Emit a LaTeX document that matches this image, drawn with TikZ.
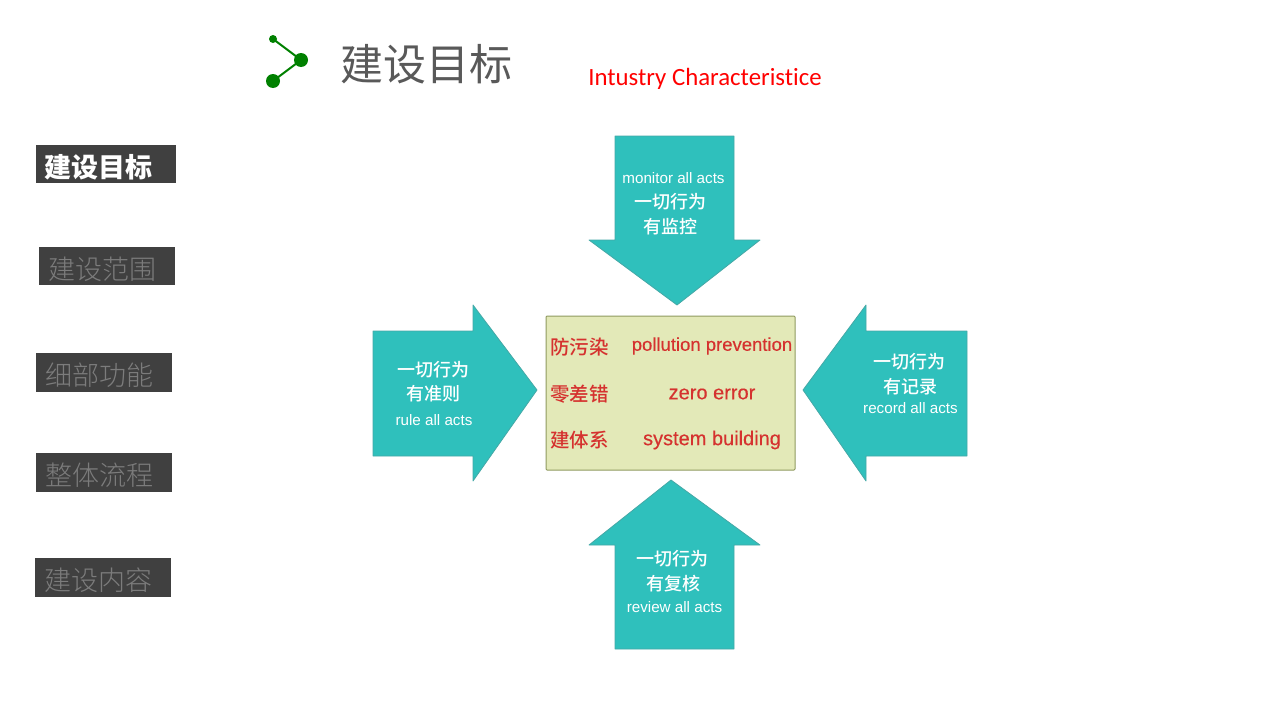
\documentclass[tikz,border=0pt]{standalone}
\usepackage{fontspec}
\setmainfont{Liberation Sans}
\newfontfamily\cjk{Noto Sans CJK SC}
\newfontfamily\cjklight{Noto Sans CJK SC Light}
\newfontfamily\cjkmedium{Noto Sans CJK SC Medium}
\newfontfamily\latinui[Ligatures=NoCommon]{Carlito}
\newfontfamily\enheavy[FakeBold=0.3]{Liberation Sans}
\definecolor{tealfill}{HTML}{2FC0BC}
\definecolor{tealline}{HTML}{45A8A6}
\definecolor{boxfill}{HTML}{E3E9B8}
\definecolor{boxline}{HTML}{8F9A60}
\definecolor{labelred}{HTML}{D5322F}
\definecolor{sidegray}{HTML}{404040}
\definecolor{sidelabel}{HTML}{7C7C7C}
\definecolor{icongreen}{HTML}{008000}
\tikzset{
  bigarrow/.style={fill=tealfill, draw=tealline, line width=0.8pt, line join=round},
  arrowen/.style={text=white, font=\fontsize{15.2}{15.2}\selectfont},
  arrowzh/.style={text=white, font=\cjkmedium\fontsize{18}{18}\selectfont},
  redzh/.style={text=labelred, font=\cjkmedium\fontsize{19.5}{19.5}\selectfont},
  reden/.style={text=labelred, font=\enheavy\fontsize{18.5}{18.5}\selectfont},
  redenbig/.style={text=labelred, font=\enheavy\fontsize{20}{20}\selectfont},
  sidebox/.style={fill=sidegray},
  sidetext/.style={text=sidelabel, font=\cjklight\fontsize{27}{27}\selectfont}
}
\begin{document}
\begin{tikzpicture}[x=1pt, y=-1pt]
  \useasboundingbox (0,0) rectangle (1280,720);

  % Title icon
  \coordinate (dotA) at (273,39);
  \coordinate (dotB) at (301,60);
  \coordinate (dotC) at (273,81);
  \draw[icongreen, line width=2pt] (dotA) -- (dotB) -- (dotC);
  \fill[icongreen] (dotA) circle (4);
  \fill[icongreen] (dotB) circle (7);
  \fill[icongreen] (dotC) circle (7);

  % Title
  \node[text=black!65, font=\cjk\fontsize{43}{43}\selectfont] (title) at (426,64) {建设目标};
  \node[text=red, font=\latinui\fontsize{24.8}{24.8}\selectfont] (subtitle) at (705,78.5) {Intustry Characteristice};

  % Side menu
  \fill[sidebox] (36,145) rectangle (176,183);
  \node[text=white, font=\cjk\bfseries\fontsize{27}{27}\selectfont] (menuA) at (98.5,167) {建设目标};
  \fill[sidebox] (39,247) rectangle (175,285);
  \node[sidetext] (menuB) at (102.5,269) {建设范围};
  \fill[sidebox] (36,353) rectangle (172,392);
  \node[sidetext] (menuC) at (99.5,375) {细部功能};
  \fill[sidebox] (36,453) rectangle (172,492);
  \node[sidetext] (menuD) at (99.5,475) {整体流程};
  \fill[sidebox] (35,558) rectangle (171,597);
  \node[sidetext] (menuE) at (98,580) {建设内容};

  % Four arrows
  \draw[bigarrow] (615,136) -- (734,136) -- (734,240) -- (760,240) -- (677,305) -- (589,240) -- (615,240) -- cycle;
  \draw[bigarrow] (373,331) -- (473,331) -- (473,305) -- (537,390) -- (473,481) -- (473,456) -- (373,456) -- cycle;
  \draw[bigarrow] (967,331) -- (866,331) -- (866,305) -- (803,390) -- (866,481) -- (866,456) -- (967,456) -- cycle;
  \draw[bigarrow] (615,649) -- (734,649) -- (734,545) -- (760,545) -- (671,480) -- (589,545) -- (615,545) -- cycle;

  % Top arrow text
  \node[arrowen] (topen) at (673.5,178) {monitor all acts};
  \node[arrowzh] (topa) at (670,202) {一切行为};
  \node[arrowzh] (topb) at (670,226.5) {有监控};

  % Left arrow text
  \node[arrowzh] (lefta) at (433,369.5) {一切行为};
  \node[arrowzh] (leftb) at (433,393.5) {有准则};
  \node[arrowen] (leften) at (434,420) {rule all acts};

  % Right arrow text
  \node[arrowzh] (righta) at (909,361.5) {一切行为};
  \node[arrowzh] (rightb) at (910,386.5) {有记录};
  \node[arrowen] (righten) at (910.5,408) {record all acts};

  % Bottom arrow text
  \node[arrowzh] (bota) at (672.5,558.5) {一切行为};
  \node[arrowzh] (botb) at (673,583.5) {有复核};
  \node[arrowen] (boten) at (674.5,607) {review all acts};

  % Centre box
  \fill[boxfill, draw=boxline, line width=1pt, rounded corners=1pt] (546,316) rectangle (795,470);
  \node[redzh] (zhA) at (579.5,347) {防污染};
  \node[redzh] (zhB) at (579.5,394) {零差错};
  \node[redzh] (zhC) at (579.5,440) {建体系};
  \node[reden] (enA) at (712,346) {pollution prevention};
  \node[redenbig] (enB) at (712,394) {zero error};
  \node[redenbig] (enC) at (712,440) {system building};
\end{tikzpicture}
\end{document}
